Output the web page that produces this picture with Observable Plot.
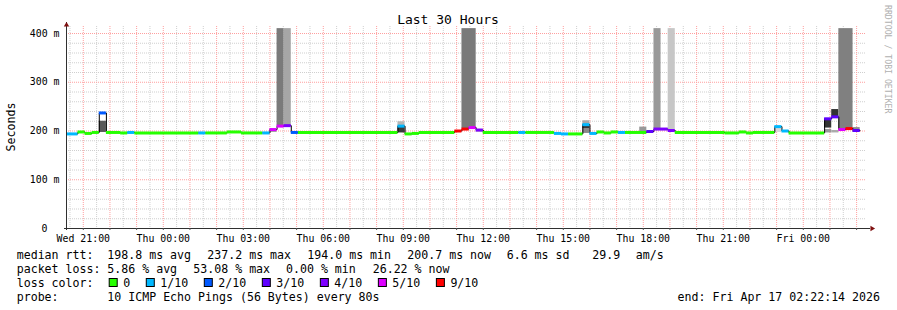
<!DOCTYPE html>
<html><head><meta charset="utf-8">
<script src="https://cdn.jsdelivr.net/npm/d3@7"></script>
<script src="https://cdn.jsdelivr.net/npm/@observablehq/plot@0.6"></script>
<style>
html,body{margin:0;padding:0;background:#fff;}
#chart{width:897px;height:310px;position:relative;overflow:hidden;}
</style></head><body><div id="chart"></div>
<script>
// ---------- data ----------
const title = "Last 30 Hours";
const yLabel = "Seconds";
const watermark = "RRDTOOL / TOBI OETIKER";
const windowStart = "2026-04-15 20:22:14";
const windowEnd = "2026-04-17 02:22:14";

const yTicks = [100, 200, 300, 400];           // ms
const yTickUnit = " m";
const yZeroLabel = "0";

const lossColors = ["#26ff00", "#00b8ff", "#0059ff", "#5e00ff", "#7e00ff", "#dd00ff", "#ff0000"];
const lossLabels = ["0", "1/10", "2/10", "3/10", "4/10", "5/10", "9/10"];

// median RTT runs: [start, end, median ms, loss class]
const medianRuns = [
  ["04-15 20:16","04-15 20:48",194,1],
  ["04-15 20:48","04-15 21:04",198,0],
  ["04-15 21:04","04-15 21:20",195,0],
  ["04-15 21:20","04-15 21:36",197,0],
  ["04-15 21:36","04-15 21:52",237,2],
  ["04-15 21:52","04-15 22:24",197,0],
  ["04-15 22:24","04-15 22:40",196,0],
  ["04-15 22:40","04-15 22:56",197,1],
  ["04-15 22:56","04-16 01:20",196,0],
  ["04-16 01:20","04-16 01:36",196,1],
  ["04-16 01:36","04-16 02:24",196,0],
  ["04-16 02:24","04-16 02:56",198,0],
  ["04-16 02:56","04-16 03:44",196,0],
  ["04-16 03:44","04-16 04:00",196,1],
  ["04-16 04:00","04-16 04:16",203,5],
  ["04-16 04:16","04-16 04:32",210,5],
  ["04-16 04:32","04-16 04:48",211,4],
  ["04-16 04:48","04-16 05:04",197,2],
  ["04-16 05:04","04-16 08:48",197,0],
  ["04-16 08:48","04-16 09:04",210,1],
  ["04-16 09:04","04-16 09:20",194,0],
  ["04-16 09:20","04-16 09:36",195,0],
  ["04-16 09:36","04-16 10:56",197,0],
  ["04-16 10:56","04-16 11:12",200,6],
  ["04-16 11:12","04-16 11:28",204,6],
  ["04-16 11:28","04-16 11:44",207,5],
  ["04-16 11:44","04-16 12:00",202,4],
  ["04-16 12:00","04-16 13:20",197,0],
  ["04-16 13:20","04-16 13:36",197,1],
  ["04-16 13:36","04-16 14:40",197,0],
  ["04-16 14:40","04-16 14:56",195,1],
  ["04-16 14:56","04-16 15:12",194,1],
  ["04-16 15:12","04-16 15:44",194,0],
  ["04-16 15:44","04-16 16:00",213,1],
  ["04-16 16:00","04-16 16:16",195,1],
  ["04-16 16:16","04-16 16:32",198,0],
  ["04-16 16:32","04-16 16:48",196,0],
  ["04-16 16:48","04-16 17:04",198,0],
  ["04-16 17:04","04-16 17:20",197,1],
  ["04-16 17:20","04-16 18:08",197,0],
  ["04-16 18:08","04-16 18:24",199,3],
  ["04-16 18:24","04-16 18:56",204,4],
  ["04-16 18:56","04-16 19:12",201,4],
  ["04-16 19:12","04-16 21:04",197,0],
  ["04-16 21:04","04-16 21:36",196,0],
  ["04-16 21:36","04-16 21:52",198,0],
  ["04-16 21:52","04-16 22:08",196,0],
  ["04-16 22:08","04-16 22:56",197,0],
  ["04-16 22:56","04-16 23:12",209,1],
  ["04-16 23:12","04-16 23:28",200,1],
  ["04-16 23:28","04-17 00:48",196,0],
  ["04-17 00:48","04-17 01:04",225,3],
  ["04-17 01:04","04-17 01:20",229,3],
  ["04-17 01:20","04-17 01:36",203,5],
  ["04-17 01:36","04-17 01:52",205,6],
  ["04-17 01:52","04-17 02:08",201,3]
];

// smoke bands: [start, end, low ms, high ms, density 0..1]
const smokeBands = [
  ["04-15 21:36","04-15 21:52",197,220,0.65],
  ["04-16 04:00","04-16 04:16",197,203,0.37],
  ["04-16 04:16","04-16 04:32",210,410,0.52],
  ["04-16 04:32","04-16 04:48",211,410,0.35],
  ["04-16 08:48","04-16 09:04",196,210,0.77],
  ["04-16 08:48","04-16 09:04",210,219,0.29],
  ["04-16 11:12","04-16 11:44",204,410,0.52],
  ["04-16 11:44","04-16 12:00",197,202,0.22],
  ["04-16 15:44","04-16 16:00",195,205,0.46],
  ["04-16 15:44","04-16 16:00",205,213,0.78],
  ["04-16 15:44","04-16 16:00",213,221,0.34],
  ["04-16 17:52","04-16 18:08",197,208,0.40],
  ["04-16 18:24","04-16 18:40",204,410,0.40],
  ["04-16 18:56","04-16 19:12",201,410,0.22],
  ["04-16 22:56","04-16 23:12",197,209,0.15],
  ["04-17 00:48","04-17 01:04",196,203,0.40],
  ["04-17 00:48","04-17 01:04",206,225,0.80],
  ["04-17 01:04","04-17 01:20",229,244,0.80],
  ["04-17 01:04","04-17 01:20",196,201,0.33],
  ["04-17 01:20","04-17 01:52",203,410,0.50],
  ["04-17 01:52","04-17 02:08",197,207,0.45]
];

const rttLabel = "median rtt:";
const rttStats = ["198.8 ms avg", "237.2 ms max", "194.0 ms min", "200.7 ms now", "6.6 ms sd", "29.9", "am/s"];
const lossLabel = "packet loss:";
const lossStats = ["5.86 % avg", "53.08 % max", "0.00 % min", "26.22 % now"];
const lossColorLabel = "loss color:";
const probeLabel = "probe:";
const probeText = "10 ICMP Echo Pings (56 Bytes) every 80s";
const endText = "end: Fri Apr 17 02:22:14 2026";

// ---------- build ----------
const parseFull = d3.utcParse("%Y-%m-%d %H:%M:%S");
const parseShort = s => d3.utcParse("%Y-%m-%d %H:%M")("2026-" + s);
const t0 = parseFull(windowStart), t1 = parseFull(windowEnd);

const runs = medianRuns.map(([a, b, v, l]) => ({a: parseShort(a), b: parseShort(b), v, l}));
const stepPts = runs.map(r => ({t: r.a, v: r.v})).concat([{t: runs[runs.length-1].b, v: runs[runs.length-1].v}]);
const smoke = smokeBands.map(([a, b, lo, hi, d]) => ({a: parseShort(a), b: parseShort(b), lo, hi, d}));
const shade = d3.interpolateRgb("#ffffff", "#000000");

const hourLines = d3.utcHour.range(t0, t1);
const halfHourLines = d3.utcMinute.every(30).range(t0, t1).filter(d => d.getUTCMinutes() === 30);
const labelTicks = d3.utcHour.every(3).range(t0, t1);
const majorY = [100, 200, 300, 400];
const minorY = d3.range(20, 420, 20).filter(v => v % 100 !== 0);

const FONT = "DejaVu Sans Mono";
const dash = "1,1";

const plot = Plot.plot({
  width: 897, height: 310,
  marginLeft: 66, marginRight: 31, marginTop: 26, marginBottom: 82,
  style: {background: "#ffffff", fontFamily: FONT, color: "#000"},
  x: {type: "utc", domain: [t0, t1]},
  y: {domain: [0, 414.36]},
  color: {type: "identity"},
  marks: [
    Plot.ruleY(minorY, {stroke: "#cfcfcf", strokeDasharray: dash}),
    Plot.ruleX(halfHourLines, {stroke: "#cfcfcf", strokeDasharray: dash}),
    Plot.ruleY(majorY, {stroke: "#ff9f9f", strokeDasharray: dash}),
    Plot.ruleX(hourLines, {stroke: "#ff9f9f", strokeDasharray: dash}),
    Plot.rect(smoke, {x1: "a", x2: "b", y1: "lo", y2: "hi", fill: d => shade(d.d), clip: true}),
    Plot.line(stepPts, {x: "t", y: "v", curve: "step-after", stroke: "#000", strokeWidth: 1, clip: true}),
    Plot.ruleY(runs, {x1: "a", x2: "b", y: "v", stroke: d => lossColors[d.l], strokeWidth: 3, clip: true}),
    Plot.ruleY([0], {stroke: "#303030", insetLeft: -2, insetRight: -4}),
    Plot.ruleX([t0], {stroke: "#303030", insetTop: -4, insetBottom: -2}),
    Plot.dot([t1], {x: d => d, y: 0, dx: 5.5, symbol: "triangle", r: 2, rotate: 90, fill: "#7f1010", stroke: null}),
    Plot.dot([t0], {x: d => d, y: 414.36, dy: -1.5, symbol: "triangle", r: 2, fill: "#7f1010", stroke: null}),
    Plot.axisX(hourLines, {tickSize: 2, tickFormat: () => "", stroke: "#505050"}),
    Plot.axisX(labelTicks, {tickFormat: d3.utcFormat("%a %H:%M"), tickSize: 0, tickPadding: 6, fontSize: 9.9, fontFamily: FONT, fill: "#000"}),
    Plot.axisY(yTicks, {tickFormat: d => d + yTickUnit, tickSize: 0, tickPadding: 7, fontSize: 9.9, fontFamily: FONT, fill: "#000"}),
    Plot.axisY([0], {tickFormat: () => yZeroLabel, tickSize: 0, tickPadding: 19, fontSize: 9.9, fontFamily: FONT, fill: "#000"})
  ]
});

document.getElementById("chart").appendChild(plot);

// ---------- texts ----------
const s = d3.select(plot);
function txt(x, y, str, size, extra = {}) {
  const t = s.append("text").attr("x", x).attr("y", y).text(str)
    .attr("font-family", FONT).attr("font-size", size).attr("fill", extra.fill || "#000")
    .attr("text-anchor", extra.anchor || "start");
  if (extra.transform) t.attr("transform", extra.transform);
  return t;
}
txt(448, 24, title, 13, {anchor: "middle"});
txt(0, 0, yLabel, 11.6, {anchor: "middle", transform: "translate(15,127) rotate(-90)"});
txt(0, 0, watermark, 8.2, {fill: "#b0b0b0", transform: "translate(885,5) rotate(90)"});

const LS = 11.6, rowY = [258.5, 272.5, 286.5, 300.5], colX = 16.7;
txt(colX, rowY[0], rttLabel, LS);
const rttX = [107.3, 207.3, 307.3, 407.3, 506.7, 592.3, 635.7];
rttStats.forEach((v, i) => txt(rttX[i], rowY[0], v, LS));
txt(colX, rowY[1], lossLabel, LS);
const lossX = [107.3, 193.3, 286, 372.7];
lossStats.forEach((v, i) => txt(lossX[i], rowY[1], v, LS));
txt(colX, rowY[2], lossColorLabel, LS);
let bx = 108.7;
lossColors.forEach((c, i) => {
  s.append("rect").attr("x", bx + 0.5).attr("y", rowY[2] - 8).attr("width", 8).attr("height", 8)
    .attr("fill", c).attr("stroke", "#000").attr("stroke-width", 1);
  txt(bx + 14.5, rowY[2], lossLabels[i], LS);
  bx = bx + 14.5 + lossLabels[i].length * 6.98 + 15.6;
});
txt(colX, rowY[3], probeLabel, LS);
txt(107.3, rowY[3], probeText, LS);
txt(880, rowY[3], endText, LS, {anchor: "end"});
</script></body></html>
